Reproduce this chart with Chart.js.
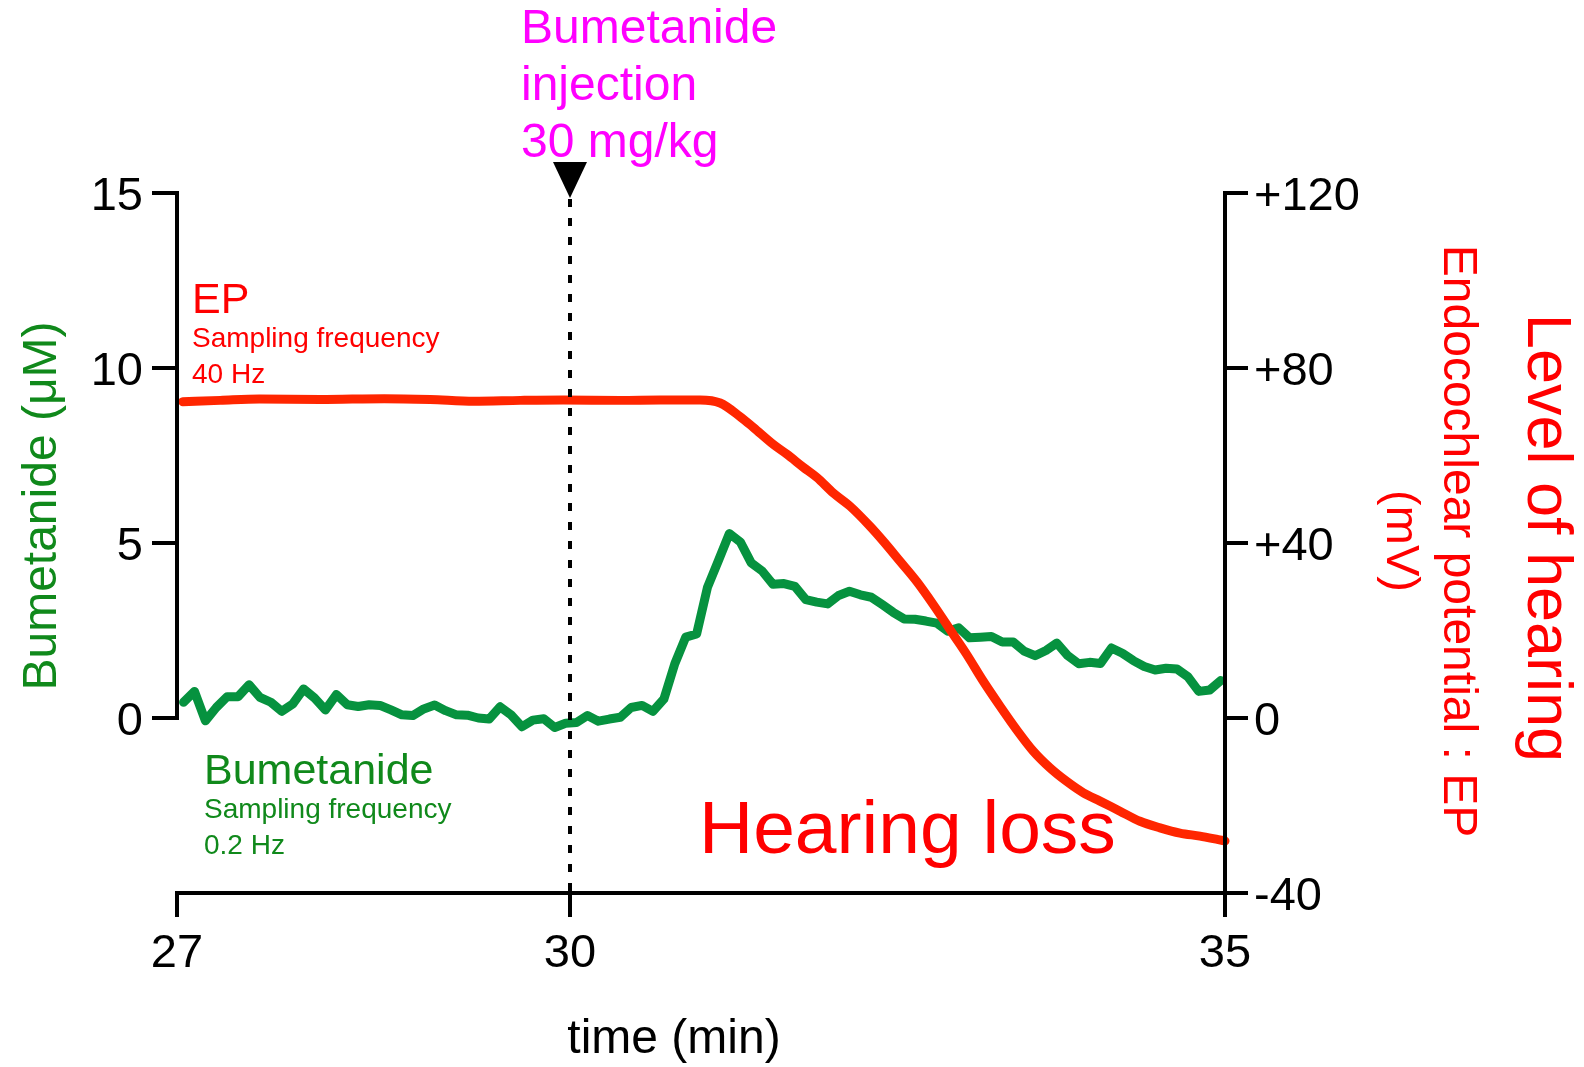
<!DOCTYPE html>
<html>
<head>
<meta charset="utf-8">
<title>Bumetanide and endocochlear potential</title>
<script src="https://cdn.jsdelivr.net/npm/chart.js@4/dist/chart.umd.min.js"></script>
<style>
  html, body { margin: 0; padding: 0; background: #ffffff; overflow: hidden; }
  canvas { display: block; }
</style>
</head>
<body>
<canvas id="chart" width="1584" height="1067"></canvas>
<script>
const FONT = '"Liberation Sans", Arial, Helvetica, sans-serif';

// Axis ticks
const timeTicks = [27, 30, 35];                 // min
const bumetanideTicks = [0, 5, 10, 15];         // µM
const epTicks = [-40, 0, 40, 80, 120];          // mV
const injectionTime = 30;                       // min

// Bumetanide concentration (µM), one sample every 5 s (0.2 Hz) from 27.05 min
const bumetanideStart = 27.05;
const bumetanideInterval = 5 / 60;
const bumetanideValues = [
  0.45, 0.76, -0.08, 0.30, 0.61, 0.61, 0.95, 0.59, 0.45, 0.19,
  0.40, 0.83, 0.57, 0.23, 0.67, 0.38, 0.33, 0.38, 0.36, 0.23,
  0.09, 0.07, 0.26, 0.37, 0.21, 0.09, 0.08, 0.00, -0.03, 0.32,
  0.09, -0.25, -0.06, -0.02, -0.27, -0.15, -0.13, 0.07, -0.09, -0.03,
  0.02, 0.30, 0.36, 0.19, 0.54, 1.55, 2.31,
  2.40, 3.74, 4.50, 5.27, 5.03, 4.43, 4.20, 3.82, 3.84, 3.76,
  3.38, 3.31, 3.26, 3.50, 3.62, 3.52, 3.45, 3.24, 3.02, 2.83,
  2.82, 2.77, 2.71, 2.48, 2.58, 2.29, 2.31, 2.33, 2.17, 2.17,
  1.91, 1.78, 1.93, 2.14, 1.78, 1.55, 1.59, 1.56, 2.00, 1.85,
  1.64, 1.47, 1.37, 1.42, 1.40, 1.18, 0.76, 0.80, 1.07
];

// Endocochlear potential (mV), 40 Hz trace read at these times (min)
const epTimes = [
  27.044, 27.330, 27.628, 28.094, 28.582, 28.933, 29.266, 29.621, 29.948, 30.383,
  30.688, 30.993, 31.146, 31.298, 31.400, 31.553, 31.655, 31.782, 31.884, 32.011,
  32.138, 32.291, 32.392, 32.520, 32.647, 32.774, 32.926, 33.029, 33.155, 33.283,
  33.410, 33.537, 33.664, 33.792, 33.919, 34.046, 34.198, 34.351, 34.504, 34.656,
  34.809, 34.949, 35.000
];
const epValues = [
  72.3, 72.6, 72.9, 72.8, 73.0, 72.8, 72.4, 72.6, 72.7, 72.6,
  72.7, 72.7, 72.0, 68.9, 66.4, 62.5, 60.3, 57.3, 55.0, 51.4,
  48.4, 43.8, 40.4, 35.8, 31.2, 25.9, 19.1, 14.5, 8.4, 2.7,
  -2.7, -7.6, -11.4, -14.5, -17.1, -19.0, -21.3, -23.6, -25.1, -26.3,
  -27.0, -27.8, -28.1
];

const bumetanidePoints = bumetanideValues.map((v, i) => ({ x: bumetanideStart + i * bumetanideInterval, y: v }));
const epPoints = epTimes.map((t, i) => ({ x: t, y: epValues[i] }));

const COLORS = {
  axis: '#000000',
  epLine: '#ff2600',
  bumLine: '#06923f',
  red: '#ff0000',
  green: '#10891b',
  magenta: '#ff00ff'
};

// Free text labels: [text, x, y, size, color]
const labels = [
  ['Bumetanide', 521, 43, 48, COLORS.magenta],
  ['injection', 521, 100, 48, COLORS.magenta],
  ['30 mg/kg', 521, 157, 48, COLORS.magenta],
  ['EP', 192, 313, 43, COLORS.red],
  ['Sampling frequency', 192, 347, 28, COLORS.red],
  ['40 Hz', 192, 383, 28, COLORS.red],
  ['Bumetanide', 204, 784, 43, COLORS.green],
  ['Sampling frequency', 204, 818, 28, COLORS.green],
  ['0.2 Hz', 204, 854, 28, COLORS.green],
  ['Hearing loss', 699, 853, 75, COLORS.red]
];

function line(ctx, x1, y1, x2, y2) {
  ctx.beginPath();
  ctx.moveTo(x1, y1);
  ctx.lineTo(x2, y2);
  ctx.stroke();
}

// Axis lines and tick marks with separated ends
const axesPlugin = {
  id: 'framedAxes',
  afterDatasetsDraw(chart) {
    const { ctx } = chart;
    const { x, yBum, yEP } = chart.scales;
    const L = x.getPixelForValue(timeTicks[0]);
    const R = x.getPixelForValue(timeTicks[timeTicks.length - 1]);
    const B = yBum.getPixelForValue(yBum.min);
    ctx.save();
    ctx.strokeStyle = COLORS.axis;
    ctx.lineWidth = 4;
    ctx.lineCap = 'square';
    // left axis: 0 to 15 µM
    line(ctx, L, yBum.getPixelForValue(0), L, yBum.getPixelForValue(15));
    bumetanideTicks.forEach(v => {
      const py = yBum.getPixelForValue(v);
      line(ctx, L - 23, py, L, py);
    });
    // time axis
    line(ctx, L, B, R, B);
    timeTicks.forEach(v => {
      const px = x.getPixelForValue(v);
      line(ctx, px, B, px, B + 22);
    });
    // right axis
    line(ctx, R, yEP.getPixelForValue(120), R, B + 22);
    epTicks.forEach(v => {
      const py = yEP.getPixelForValue(v);
      line(ctx, R, py, R + 21, py);
    });

    // injection marker
    const xi = x.getPixelForValue(injectionTime);
    ctx.lineCap = 'butt';
    ctx.setLineDash([8, 11]);
    line(ctx, xi, 199, xi, B);
    ctx.setLineDash([]);
    ctx.fillStyle = COLORS.axis;
    ctx.beginPath();
    ctx.moveTo(xi - 17, 162);
    ctx.lineTo(xi + 17, 162);
    ctx.lineTo(xi, 198);
    ctx.closePath();
    ctx.fill();
    ctx.restore();
  }
};

// Axis titles and annotations
const textPlugin = {
  id: 'annotations',
  afterDraw(chart) {
    const { ctx } = chart;
    ctx.save();
    ctx.textBaseline = 'alphabetic';
    ctx.textAlign = 'left';
    labels.forEach(([text, lx, ly, size, color]) => {
      ctx.font = size + 'px ' + FONT;
      ctx.fillStyle = color;
      ctx.fillText(text, lx, ly);
    });

    // x-axis title
    ctx.textAlign = 'center';
    ctx.font = '48px ' + FONT;
    ctx.fillStyle = '#000000';
    ctx.fillText('time (min)', 674, 1053);

    // left axis title (reads upward)
    ctx.save();
    ctx.translate(56, 506);
    ctx.rotate(-Math.PI / 2);
    ctx.fillStyle = COLORS.green;
    ctx.font = '48px ' + FONT;
    ctx.fillText('Bumetanide (μM)', 0, 0);
    ctx.restore();

    // right axis titles (read downward)
    const rotated = [
      ['(mV)', 1387, 541, 47],
      ['Endocochlear potential : EP', 1444, 541, 48],
      ['Level of hearing', 1528, 538, 63]
    ];
    rotated.forEach(([text, rx, ry, size]) => {
      ctx.save();
      ctx.translate(rx, ry);
      ctx.rotate(Math.PI / 2);
      ctx.fillStyle = COLORS.red;
      ctx.font = size + 'px ' + FONT;
      ctx.fillText(text, 0, 0);
      ctx.restore();
    });
    ctx.restore();
  }
};

const tickFont = { family: FONT, size: 47 };

new Chart(document.getElementById('chart').getContext('2d'), {
  type: 'line',
  data: {
    datasets: [
      {
        label: 'EP',
        data: epPoints,
        yAxisID: 'yEP',
        borderColor: COLORS.epLine,
        borderWidth: 9,
        pointRadius: 0,
        cubicInterpolationMode: 'monotone',
        borderCapStyle: 'round',
        borderJoinStyle: 'round',
        clip: false
      },
      {
        label: 'Bumetanide',
        data: bumetanidePoints,
        yAxisID: 'yBum',
        borderColor: COLORS.bumLine,
        borderWidth: 9,
        pointRadius: 0,
        tension: 0,
        borderCapStyle: 'round',
        borderJoinStyle: 'round',
        clip: false
      }
    ]
  },
  options: {
    responsive: false,
    animation: false,
    devicePixelRatio: 1,
    layout: { padding: { top: 193, left: 0, right: 0, bottom: 0 } },
    plugins: { legend: { display: false }, tooltip: { enabled: false } },
    scales: {
      x: {
        type: 'linear',
        position: 'bottom',
        min: 27,
        max: 35,
        afterBuildTicks: s => { s.ticks = timeTicks.map(v => ({ value: v })); },
        afterFit: s => { s.height = 174; },
        grid: { display: false, drawTicks: false },
        border: { display: false },
        ticks: { padding: 33, font: tickFont, color: '#000000', maxRotation: 0, autoSkip: false, callback: v => String(v) }
      },
      yBum: {
        type: 'linear',
        position: 'left',
        min: -5,
        max: 15,
        afterBuildTicks: s => { s.ticks = bumetanideTicks.map(v => ({ value: v })); },
        afterFit: s => { s.width = 177; },
        grid: { display: false, drawTicks: false },
        border: { display: false },
        ticks: { padding: 34, labelOffset: 4, font: tickFont, color: '#000000', autoSkip: false, callback: v => String(v) }
      },
      yEP: {
        type: 'linear',
        position: 'right',
        min: -40,
        max: 120,
        afterBuildTicks: s => { s.ticks = epTicks.map(v => ({ value: v })); },
        afterFit: s => { s.width = 359; },
        grid: { display: false, drawTicks: false },
        border: { display: false },
        ticks: { padding: 29, labelOffset: 4, font: tickFont, color: '#000000', autoSkip: false, callback: v => (v > 0 ? '+' + v : String(v)) }
      }
    }
  },
  plugins: [axesPlugin, textPlugin]
});
</script>
</body>
</html>
